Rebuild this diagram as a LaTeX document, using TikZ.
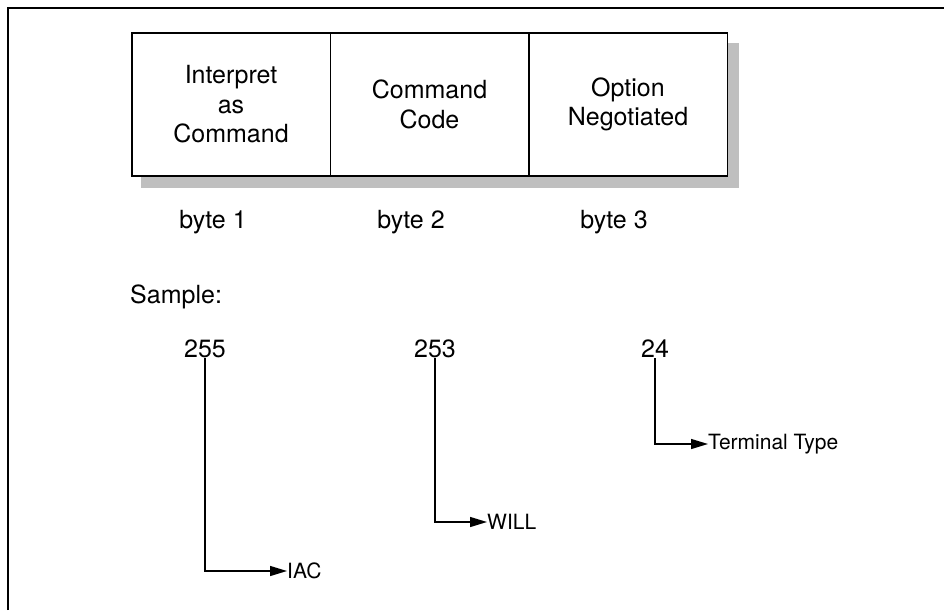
\documentclass[tikz,border=0pt]{standalone}
\usepackage{fontspec}
\setmainfont{TeX Gyre Heros}
\usetikzlibrary{arrows.meta}

\begin{document}
\begin{tikzpicture}[x=1pt,y=-1pt,
  cell/.style={draw, line width=1.5pt, minimum width=198.5pt, minimum height=143pt,
    align=center, inner sep=0pt, font=\fontsize{25}{29.5}\selectfont},
  txt/.style={inner sep=0pt, font=\fontsize{25}{29}\selectfont},
  lbl/.style={anchor=west, inner sep=0pt, font=\fontsize{21}{25}\selectfont},
  link/.style={line width=1.3pt, -{Triangle[length=17pt,width=10pt]}}]
\useasboundingbox (0,0) rectangle (944,610);
\draw[line width=1.2pt] (8,610) -- (8,8) -- (944,8);
\fill[black!25] (141,43) rectangle (739,188);
\fill[white] (132,33) rectangle (727,176);
\node[cell] (iacbox) at (231,104.5) {Interpret\\as\\Command};
\node[cell] (codebox) at (429.5,104.5) {Command\\Code};
\node[cell] (optbox) at (628,104.5) {Option\\Negotiated};
\node[txt] (byte1) at (213,222) {byte 1};
\node[txt] (byte2) at (411,222) {byte 2};
\node[txt] (byte3) at (614,222) {byte 3};
\node[txt, anchor=west] (sample) at (130,297) {Sample:};
\node[txt] (n255) at (205,349) {255};
\node[txt] (n253) at (435,349) {253};
\node[txt] (n24) at (655,349) {24};
\node[lbl] (iac) at (287,571) {IAC};
\node[lbl] (will) at (487,522) {WILL};
\node[lbl] (term) at (708,444) {Terminal Type};
\draw[link] (n255.south) |- (iac.west);
\draw[link] (n253.south) |- (will.west);
\draw[link] (n24.south) |- (term.west);
\end{tikzpicture}
\end{document}
